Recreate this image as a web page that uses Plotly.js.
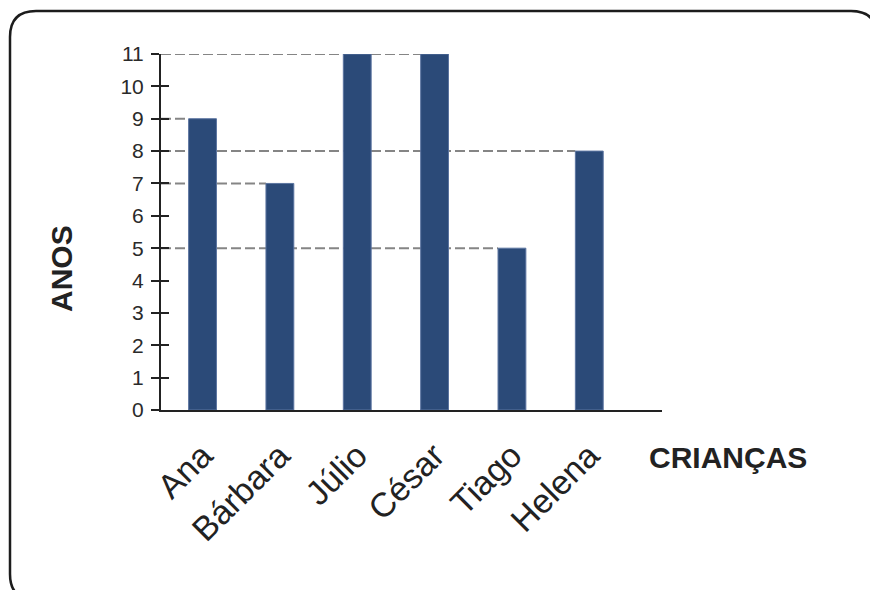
<!DOCTYPE html>
<html>
<head>
<meta charset="utf-8">
<script src="https://cdn.plot.ly/plotly-3.0.1.min.js"></script>
<style>
  html, body { margin: 0; padding: 0; background: #ffffff; }
  #chart { width: 870px; height: 590px; }
</style>
</head>
<body>
<div id="chart"></div>
<script>
// Idade das crianças (anos)
const criancas = ['Ana', 'Bárbara', 'Júlio', 'César', 'Tiago', 'Helena'];
const anos = [9, 7, 11, 11, 5, 8];
const yTicks = [0, 1, 2, 3, 4, 5, 6, 7, 8, 9, 10, 11];

const W = 870, H = 590;
const margin = { l: 161, r: 208, t: 54, b: 180 };
const plotW = W - margin.l - margin.r;
const plotH = H - margin.t - margin.b;
const barWidth = 0.36;
const xRange = [-0.537, 5.94];

// pixel -> paper helpers for the decorative frame and free labels
const px = x => (x - margin.l) / plotW;
const py = y => (H - margin.b - y) / plotH;

const font = "Arial, 'Liberation Sans', sans-serif";
const ink = '#222222';

// Dashed guide from the y axis to the left edge of each bar, at the bar's height
const guides = criancas.map((c, i) => ({
  type: 'line', xref: 'x', yref: 'y', layer: 'below',
  x0: xRange[0], x1: i - barWidth / 2,
  y0: anos[i], y1: anos[i],
  line: { color: '#858585', width: 2, dash: '10px,4px' }
}));

// Rounded frame around the whole figure
const x0 = 10, y0 = 11, x1 = 877, y1 = 600, r = 26;
const framePath = [
  `M${px(x0 + r)},${py(y0)}`,
  `L${px(x1 - r)},${py(y0)}`,
  `Q${px(x1)},${py(y0)} ${px(x1)},${py(y0 + r)}`,
  `L${px(x1)},${py(y1 - r)}`,
  `Q${px(x1)},${py(y1)} ${px(x1 - r)},${py(y1)}`,
  `L${px(x0 + r)},${py(y1)}`,
  `Q${px(x0)},${py(y1)} ${px(x0)},${py(y1 - r)}`,
  `L${px(x0)},${py(y0 + r)}`,
  `Q${px(x0)},${py(y0)} ${px(x0 + r)},${py(y0)}`,
  'Z'
].join(' ');

const frame = {
  type: 'path', xref: 'paper', yref: 'paper', layer: 'above',
  path: framePath,
  line: { color: '#1c1c1c', width: 2.5 }
};

const trace = {
  type: 'bar',
  x: criancas.map((c, i) => i),
  y: anos,
  width: barWidth,
  marker: { color: '#2b4a78', line: { color: '#5b74a0', width: 1 } },
  hoverinfo: 'skip'
};

// Invisible companion trace so the second y axis (inner tick half) is drawn
const tickHelper = {
  type: 'scatter', mode: 'markers',
  x: [0], y: [0], yaxis: 'y2',
  marker: { opacity: 0 }, hoverinfo: 'skip', showlegend: false
};

const layout = {
  width: W, height: H,
  margin: margin,
  paper_bgcolor: '#ffffff',
  plot_bgcolor: 'rgba(0,0,0,0)',
  showlegend: false,
  font: { family: font, color: ink },
  bargap: 0,
  xaxis: {
    range: xRange,
    tickmode: 'array',
    tickvals: criancas.map((c, i) => i),
    ticktext: criancas,
    tickangle: -45,
    tickfont: { family: font, size: 34, color: ink },
    ticks: '',
    ticklabelstandoff: 10,
    showgrid: false, zeroline: false,
    showline: true, linecolor: ink, linewidth: 2,
    fixedrange: true
  },
  yaxis: {
    range: [0, 11],
    tickmode: 'array',
    tickvals: yTicks,
    ticktext: yTicks.map(String),
    tickfont: { family: font, size: 21, color: '#2a2a2a' },
    ticks: 'outside', ticklen: 8, tickwidth: 2, tickcolor: ink,
    ticklabelstandoff: 3,
    showgrid: false, zeroline: false,
    showline: true, linecolor: ink, linewidth: 2,
    fixedrange: true
  },
  yaxis2: {
    overlaying: 'y', side: 'left',
    range: [0, 11],
    tickmode: 'array',
    tickvals: yTicks,
    showticklabels: false,
    ticks: 'inside', ticklen: 8, tickwidth: 2, tickcolor: ink,
    showgrid: false, zeroline: false, showline: false,
    fixedrange: true
  },
  shapes: guides.concat([frame]),
  annotations: [
    {
      xref: 'paper', yref: 'paper',
      x: px(61), y: py(269),
      text: '<b>ANOS</b>', textangle: -90,
      showarrow: false, xanchor: 'center', yanchor: 'middle',
      font: { family: font, size: 30, color: ink }
    },
    {
      xref: 'paper', yref: 'paper',
      x: px(728), y: py(458),
      text: '<b>CRIANÇAS</b>',
      showarrow: false, xanchor: 'center', yanchor: 'middle',
      font: { family: font, size: 30, color: ink }
    }
  ]
};

Plotly.newPlot('chart', [trace, tickHelper], layout, { displayModeBar: false, staticPlot: true });
</script>
</body>
</html>
